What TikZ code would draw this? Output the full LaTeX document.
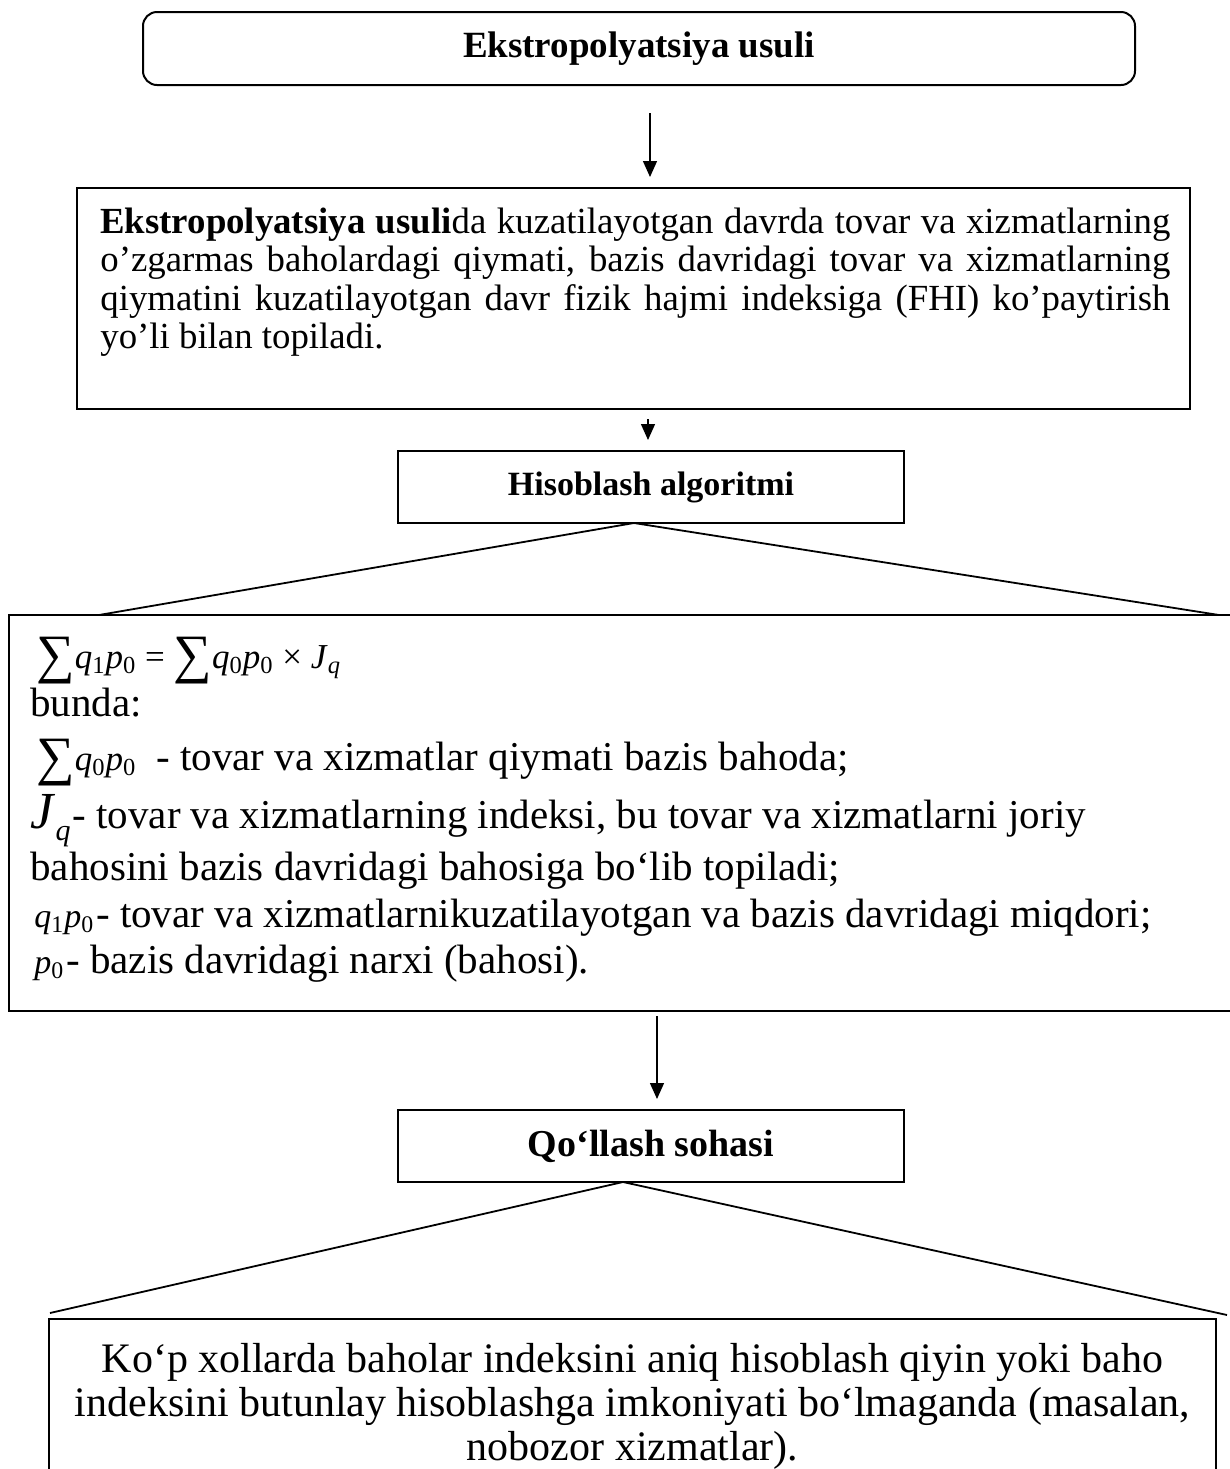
\documentclass[tikz,border=0pt]{standalone}
\usepackage{fontspec}
\setmainfont{Liberation Serif}
\usetikzlibrary{arrows.meta}
\newcommand\setfs[2]{\fontsize{#1}{#2}\selectfont}
\newcommand\qpx[2]{\textit{q}\textsubscript{#1}\textit{p}\textsubscript{#2}}
\newcommand\bsum{{\fontsize{27pt}{27pt}\selectfont\raisebox{-2pt}{∑}}}
\begin{document}
\begin{tikzpicture}[x=0.5pt,y=-0.5pt,
  box/.style={draw, line width=1pt, inner sep=0pt},
  arr/.style={-{Triangle[length=8pt,width=7pt]}, line width=0.7pt},
  diag/.style={line width=0.9pt},
  ttl/.style={font=\bfseries\setfs{17pt}{20pt}},
  lineA/.style={anchor=base west, inner sep=0pt, font=\setfs{18.4pt}{20pt}},
  lineB/.style={anchor=base west, inner sep=0pt, font=\setfs{20.5pt}{23pt}},
  lineC/.style={anchor=base, inner sep=0pt, font=\setfs{21pt}{24pt}},
  frm/.style={font=\setfs{17.5pt}{19pt}},
]
\useasboundingbox (0,0) rectangle (1230,1469);
\fill[white] (0,0) rectangle (1230,1469);
\clip (0,0) rectangle (1230,1469);

% Box 1
\node[box, rounded corners=7pt, minimum width=496pt, minimum height=36.5pt,
      font=\bfseries\setfs{18.5pt}{22pt}] (b1) at (639,48.5) {Ekstropolyatsiya usuli};

% Box 2
\node[box, minimum width=556.5pt, minimum height=110.5pt] (b2) at (633.5,298.5) {};
\node[lineA] (t21) at (100,233) {\makebox[535pt][s]{\textbf{Ekstropolyatsiya usuli}da kuzatilayotgan davrda tovar va xizmatlarning}};
\node[lineA] (t22) at (100,271.5) {\makebox[535pt][s]{o’zgarmas baholardagi qiymati, bazis davridagi tovar va xizmatlarning}};
\node[lineA] (t23) at (100,310) {\makebox[535pt][s]{qiymatini kuzatilayotgan davr fizik hajmi indeksiga (FHI) ko’paytirish}};
\node[lineA] (t24) at (100,348.5) {yo’li bilan topiladi.};

% Box 3
\node[box, ttl, minimum width=253pt, minimum height=36pt] (b3) at (651,487) {Hisoblash algoritmi};

% Box 4
\node[box, minimum width=620.5pt, minimum height=198pt] (b4) at (629.5,813) {};
\node[anchor=base west, inner sep=0pt, frm] (f1) at (36,668)
  {\bsum\qpx{1}{0} = \bsum\qpx{0}{0} × \textit{J}\textsubscript{\textit{q}}};
\node[lineB] (t42) at (30,716) {bunda:};
\node[lineB] (t43) at (36,770) {{\setfs{17.5pt}{19pt}\bsum\qpx{0}{0}}\hspace{10pt}- tovar va xizmatlar qiymati bazis bahoda;};
\node[lineB] (t44) at (30,828) {{\setfs{26pt}{26pt}\textit{J}}\raisebox{-6pt}{\setfs{15pt}{15pt}\textit{q}}\hspace{1pt}- tovar va xizmatlarning indeksi, bu tovar va xizmatlarni joriy};
\node[lineB] (t45) at (30,880) {bahosini bazis davridagi bahosiga bo‘lib topiladi;};
\node[lineB] (t46) at (34,927) {{\setfs{17pt}{19pt}\qpx{1}{0}}\hspace{1pt}- tovar va xizmatlarnikuzatilayotgan va bazis davridagi miqdori;};
\node[lineB] (t47) at (34,973) {{\setfs{17pt}{19pt}\textit{p}\textsubscript{0}}\hspace{1pt}- bazis davridagi narxi (bahosi).};

% Box 5
\node[box, font=\bfseries\setfs{19pt}{22pt}, minimum width=253pt, minimum height=36pt] (b5) at (651,1146) {Qo‘llash sohasi};

% Box 6
\node[box, minimum width=583.5pt, minimum height=90.5pt] (b6) at (632.5,1409.5) {};
\node[lineC] (t61) at (632.5,1372) {Ko‘p xollarda baholar indeksini aniq hisoblash qiyin yoki baho};
\node[lineC] (t62) at (632.5,1416) {indeksini butunlay hisoblashga imkoniyati bo‘lmaganda (masalan,};
\node[lineC] (t63) at (632.5,1460) {nobozor xizmatlar).};

% connector coordinates
\coordinate (ax1) at (650,0);
\coordinate (ax2) at (648,0);
\coordinate (ax3) at (657,0);
\coordinate (ap1) at (634,523);
\coordinate (d1l) at (99,615);
\coordinate (d1r) at (1219,615);
\coordinate (ap2) at (623,1182);
\coordinate (d2l) at (50,1313);
\coordinate (d2r) at (1227,1315);

% arrows
\draw[arr, shorten <=13.5pt, shorten >=5pt] (b1.south -| ax1) -- (b2.north -| ax1);
\draw[arr, shorten <=4.5pt, shorten >=5pt] (b2.south -| ax2) -- (b3.north -| ax2);
\draw[arr, shorten <=2pt, shorten >=5pt] (b4.south -| ax3) -- (b5.north -| ax3);

% diagonals
\draw[diag] (d1l) -- (ap1) -- (d1r);
\draw[diag] (d2l) -- (ap2) -- (d2r);
\end{tikzpicture}
\end{document}
